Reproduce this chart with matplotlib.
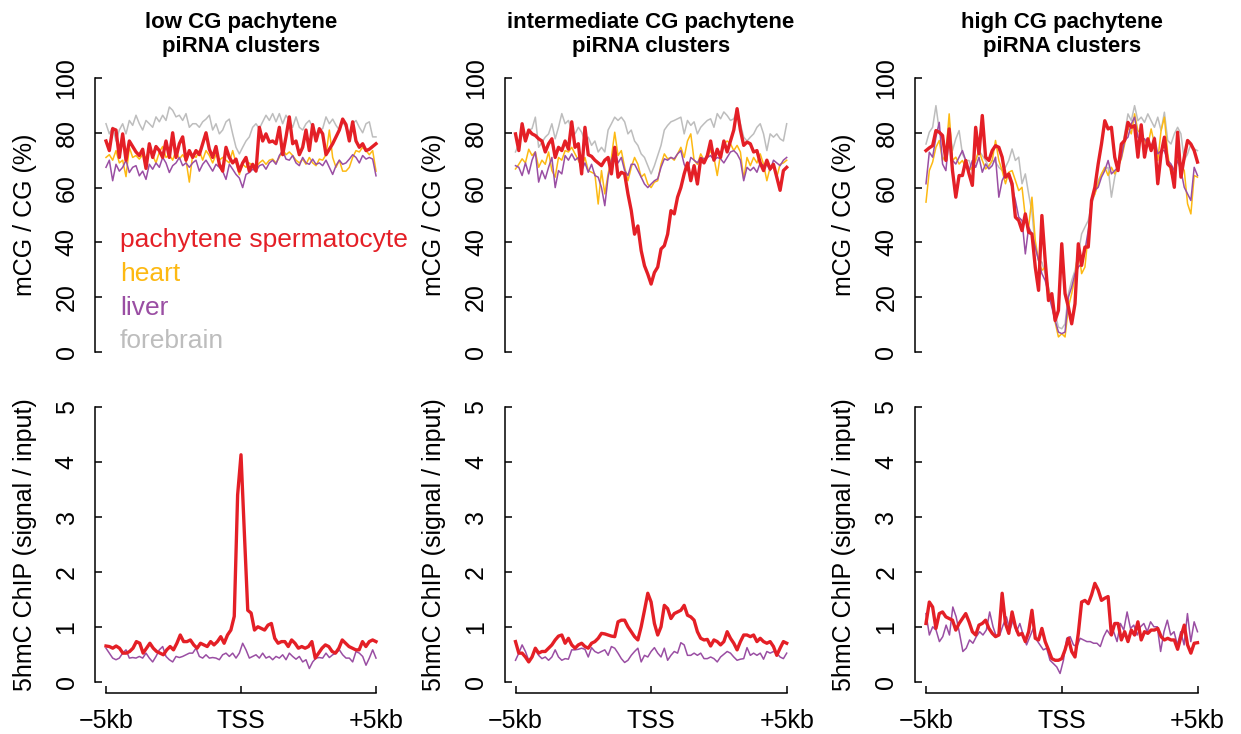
import numpy as np
import matplotlib
matplotlib.use('Agg')
from matplotlib import pyplot as plt

plt.rcParams['font.family'] = ['Liberation Sans', 'DejaVu Sans']

# colours used in the figure
RED = '#E41F26'
ORANGE = '#FDB913'
PURPLE = '#9A4EA3'
GREY = '#BDBDBD'

titles = ['low CG pachytene\npiRNA clusters',
          'intermediate CG pachytene\npiRNA clusters',
          'high CG pachytene\npiRNA clusters']
tissues = ['pachytene spermatocyte', 'heart', 'liver', 'forebrain']
xtick_labels = ['\u22125kb', 'TSS', '+5kb']

# ---- mCG / CG (%) : low CG clusters
low_pachy = [77, 73.5, 81.5, 81, 71, 79.6, 70, 77, 75, 73, 71.7, 74, 67, 76, 71, 75, 73.5, 71, 77, 71,
             80, 71, 76, 78.5, 70, 73.5, 71, 73.5, 72, 76, 80, 74, 71, 75, 68.5, 66, 74.7, 71, 69, 70.4,
             66, 69, 71, 66, 68.5, 66, 82, 77, 79.6, 76.6, 77, 76, 82, 72, 78.5, 85.8, 76, 77, 72, 74.7,
             81, 73.5, 83, 77, 81.5, 79.6, 72, 74, 76, 78.5, 81, 85, 83, 77, 84, 77, 74.7, 76, 73.5, 74,
             75, 76]
low_heart = [71, 72, 70, 73.5, 69, 70, 64, 74.7, 71, 71.7, 70.4, 72, 71, 73.5, 71.7, 69, 73, 75, 71, 72,
             70, 73.5, 70.4, 72, 70, 62, 72, 71, 73.5, 70, 73.5, 71.7, 69, 72, 70, 71, 70, 69, 73.5, 69,
             64.7, 68.5, 67.4, 69, 68, 67.4, 69, 70, 68.5, 70, 70.4, 69, 71, 74, 72, 73, 71.7, 70, 69, 70.4,
             68.5, 71, 69, 68, 70.4, 70, 72, 81, 71, 67.4, 70, 66, 66, 67.4, 71, 73.5, 73, 74.7, 73.5, 72,
             73.5, 66]
low_liver = [67.4, 70, 62.5, 68.5, 66, 67.4, 70, 65.5, 67.4, 68, 64.3, 66, 63, 68.5, 66.7, 69, 67.4, 71, 69, 65.5,
             68, 69, 71, 68, 69, 67.4, 69, 70, 66, 68.5, 70, 68, 66, 68.5, 67.4, 66, 63, 68.5, 66.7, 64.8,
             63.5, 60, 64.8, 65.5, 66.7, 66, 68, 68.5, 66.7, 69, 70, 68.5, 71.7, 73.5, 70.4, 70, 71.7, 69, 68, 71,
             69, 68.5, 70.4, 68.5, 69, 68, 70, 67.4, 64.8, 68, 70, 68.5, 69, 70.4, 72, 71, 69, 71.7, 70.4, 71,
             70.4, 64.3]
low_brain = [83.3, 79.6, 82, 77, 81, 83.3, 79.6, 84.5, 82.7, 86.4, 83.3, 81, 84.5, 83.3, 82, 85.8, 84, 86.4, 84.5, 89.4,
             88.2, 85.8, 86.4, 84.5, 87, 82, 83.3, 83.3, 82, 84, 85, 86.4, 81, 83.3, 79.6, 81, 84, 85, 79.6, 74.7,
             72.3, 74.7, 77, 78.5, 82, 83.3, 81.5, 84, 86.4, 84.5, 87, 84, 87, 83.3, 86.4, 84.5, 82, 85.8, 82, 81,
             83.3, 84.5, 82, 79.6, 81, 81.5, 85.8, 83.3, 85, 82.7, 81, 84, 82, 80, 83.3, 84.5, 82, 80, 83.3, 84,
             78.5, 78.5]

# ---- mCG / CG (%) : intermediate CG clusters
mid_pachy = [79.6, 73.5, 83.3, 77, 81, 79.6, 79, 77.8, 77, 73, 76, 77.8, 71, 74.7, 73.5, 77, 74, 84, 74.7, 76,
             65, 82, 72, 71.4, 70, 69, 68, 70, 71, 65, 74.7, 63.8, 65.6, 65, 57.7, 51.6, 43, 46, 37, 31.5,
             28.4, 24.8, 29, 31, 37.6, 38.8, 43, 51.6, 50.4, 56.5, 60, 65, 69, 62.5, 68, 61.3, 70.5, 69, 71.7, 77,
             70, 74, 71, 77, 73, 77, 81, 88.8, 81, 75.4, 76.6, 76, 73, 73.5, 69, 66.2, 70, 66.8, 68.5, 63.8,
             59, 66.2, 67.4]
mid_heart = [66.8, 68.5, 70.5, 69, 74, 71.7, 73, 67.4, 70, 68.5, 73, 66.2, 63.8, 71, 70, 73.5, 73, 74.7, 72.3, 70,
             67.4, 71, 66.2, 65.6, 65, 54, 66.2, 57.7, 65, 71, 80.2, 71.7, 73.5, 67.4, 62.5, 67.4, 71, 68.5, 63.8, 65,
             61.3, 60, 62, 62.5, 68.5, 72.3, 70.5, 71, 70, 72.3, 74.7, 71, 77, 79.6, 70, 68.5, 72.3, 70, 71, 73.5,
             71, 64.4, 72.3, 76, 77, 76, 73.5, 75.4, 73, 63.2, 71, 68, 71, 69, 72.3, 68.5, 62.5, 67.4, 68.5, 63.8,
             68.5, 69, 70]
mid_liver = [68, 67.4, 64.4, 69, 65, 70, 73, 62, 66.2, 63.2, 67.4, 71, 60, 66.2, 65, 71.7, 70, 72.3, 70, 71,
             66.2, 69, 65.6, 68.5, 64.4, 63.8, 60, 53.4, 63.8, 70, 73.5, 69, 71, 66.2, 64.4, 68.5, 68.5, 66.2, 63.8, 61.3,
             60, 61.3, 62.5, 63.2, 67.4, 70.5, 70, 71, 70.5, 72.3, 73.5, 68.5, 66.2, 71, 70, 69, 71, 70.5, 71, 71.7,
             70, 71, 70.5, 69, 71, 73, 73.5, 72.3, 70, 62.5, 67.4, 66.2, 67.4, 65.6, 69, 68, 68.5, 66.2, 70, 69,
             68, 70, 71]
mid_brain = [73, 76, 79.6, 77, 81, 81.5, 85.7, 74.7, 76.6, 78.4, 79.6, 83.3, 77.8, 82, 87, 83.3, 84.5, 81, 79.6, 82,
             80.2, 77, 78.4, 75.4, 77, 73, 74.7, 73, 81, 83.3, 85.7, 84.5, 85.7, 84, 79.6, 81, 77, 75.4, 72.3, 71,
             68, 65, 68, 71.7, 75.4, 81, 82.7, 84, 84.5, 85.1, 85.7, 79.6, 84.5, 82.7, 84, 79.6, 82, 83.3, 84.5, 85.1,
             82, 87, 85.1, 87.6, 86.3, 84.5, 85.1, 88.2, 83.3, 78.4, 77, 78.4, 79.6, 82, 83.3, 79.6, 73.5, 79.6, 78.4, 79.6,
             77.8, 77, 83.3]

# ---- mCG / CG (%) : high CG clusters
high_pachy = [73.5, 74.5, 75.3, 80.8, 80.2, 79, 69.9, 81.4, 66.2, 56.5, 64.4, 64.4, 69.9, 65, 60.8, 82, 72.3, 86.3, 71.1, 69.9,
              73.5, 75.3, 74.7, 71.1, 63.8, 65, 61.4, 49.2, 48, 44.3, 50.4, 43.7, 43.1, 31, 22.5, 49.8, 33.4, 18.8, 21.3, 11.5,
              15.2, 39.5, 21.3, 16.4, 10.3, 17.6, 39.5, 31.6, 38.3, 38.3, 55.3, 60.1, 68.6, 75.9, 84.4, 81.4, 82, 71.1, 66.2, 75.9,
              77.2, 83.8, 82, 82.6, 71.1, 82.9, 71.1, 77.8, 73.5, 77.8, 61.4, 72.3, 78.4, 68.6, 67.4, 60.1, 80.2, 63.8, 71.1, 77.2,
              75.9, 73.5, 69.3]
high_heart = [54.7, 66.2, 69.3, 74.7, 77.2, 69.9, 72.3, 86.9, 69.9, 71.1, 68.6, 69.9, 67.4, 66.2, 67.4, 69.9, 73.5, 69.9, 66.8, 68,
              69.9, 77.2, 69.9, 66.2, 61.4, 65.6, 66.2, 62.6, 58.9, 60.1, 49.2, 45.6, 56.5, 40.7, 33.4, 29.8, 31, 22.5, 17.6, 10.9,
              5.5, 6.7, 5.5, 16.4, 21.3, 27.3, 38.3, 28.6, 31, 43.1, 55.3, 57.7, 61.4, 65, 67.4, 64.4, 67.4, 65, 67.4, 70.5,
              75.9, 82, 79.6, 86.9, 80.8, 79.6, 77.2, 75.3, 81.4, 75.9, 69.9, 80.8, 85.7, 72.3, 65, 66.2, 71.1, 68.6, 66.2, 54.1,
              50.4, 64.4, 63.8]
high_liver = [61.4, 72.9, 71.1, 78.4, 83.8, 68.6, 66.2, 78.4, 69.9, 68.6, 71.1, 73.5, 69.9, 66.2, 69.9, 67.4, 71.1, 65.6, 68.6, 66.8,
              68, 71.1, 56.5, 62.6, 65, 63.8, 60.1, 55.3, 49.2, 48, 35.8, 45.6, 43.1, 38.3, 33.4, 28.6, 26.1, 21.3, 16.4, 11.5,
              7.3, 6.7, 7.3, 20, 23.7, 28.6, 31, 32.2, 37.1, 44.3, 55.3, 59, 60.1, 63.8, 66.2, 69.9, 65, 66.2, 67.4, 71.1,
              77.2, 78.4, 83.2, 85.7, 78.4, 77.2, 77.8, 75.9, 74.7, 78.4, 72.3, 73.5, 73.5, 69.9, 68.6, 66.2, 69.9, 66.2, 60.1, 57.7,
              55.3, 67.4, 64.4]
high_brain = [75.9, 80.2, 82, 89.9, 80.8, 77.2, 69.9, 83.8, 73.5, 77.8, 80.8, 72.3, 69.9, 69.9, 66.2, 69.9, 73.5, 71.7, 69.9, 67.4,
              69.9, 69.3, 67.4, 66.2, 67.4, 69.9, 74.1, 69.9, 71.1, 61.4, 65, 57.7, 51, 38.3, 33.4, 32.8, 28.6, 23.7, 18.8, 14,
              9.1, 8.5, 10.3, 21.3, 26.1, 29.8, 35.8, 43.1, 45.6, 48, 54.1, 57.7, 62.6, 65, 66.8, 67.4, 56.5, 63.8, 68.6, 72.3,
              79.6, 86.9, 84.4, 89.9, 84.4, 85.7, 83.8, 86.9, 84.4, 82, 85.7, 80.8, 87.5, 77.2, 75.9, 79.6, 82, 79.6, 69.9, 72.3,
              75.9, 74.1, 73.5]

# ---- 5hmC ChIP (signal / input)
low_pachy_hmc = [0.65, 0.64, 0.61, 0.65, 0.61, 0.52, 0.52, 0.55, 0.61, 0.73, 0.7, 0.52, 0.61, 0.7, 0.61, 0.55, 0.52, 0.49, 0.58, 0.64,
                 0.58, 0.7, 0.85, 0.73, 0.73, 0.76, 0.67, 0.61, 0.7, 0.67, 0.64, 0.73, 0.67, 0.73, 0.82, 0.7, 0.85, 0.94, 1.19, 3.4,
                 4.13, 2.7, 1.3, 1.25, 0.94, 1.0, 0.97, 0.94, 1.03, 1.06, 0.79, 0.7, 0.73, 0.73, 0.64, 0.76, 0.7, 0.61, 0.64, 0.61,
                 0.64, 0.73, 0.43, 0.52, 0.61, 0.67, 0.64, 0.55, 0.52, 0.61, 0.76, 0.7, 0.64, 0.61, 0.58, 0.58, 0.73, 0.64, 0.73, 0.76,
                 0.73]
low_liver_hmc = [0.61, 0.52, 0.43, 0.4, 0.43, 0.52, 0.58, 0.43, 0.44, 0.43, 0.46, 0.43, 0.52, 0.43, 0.36, 0.46, 0.58, 0.64, 0.46, 0.4,
                 0.36, 0.46, 0.44, 0.46, 0.49, 0.52, 0.52, 0.61, 0.46, 0.43, 0.49, 0.43, 0.44, 0.43, 0.4, 0.49, 0.52, 0.46, 0.52, 0.43,
                 0.52, 0.7, 0.58, 0.43, 0.46, 0.49, 0.43, 0.52, 0.43, 0.46, 0.4, 0.46, 0.43, 0.49, 0.4, 0.52, 0.46, 0.41, 0.46, 0.36,
                 0.4, 0.24, 0.36, 0.43, 0.44, 0.43, 0.52, 0.44, 0.49, 0.52, 0.58, 0.49, 0.43, 0.43, 0.36, 0.55, 0.52, 0.46, 0.3, 0.43,
                 0.58, 0.43]
mid_pachy_hmc = [0.73, 0.52, 0.52, 0.45, 0.36, 0.45, 0.61, 0.52, 0.55, 0.55, 0.61, 0.67, 0.76, 0.83, 0.85, 0.7, 0.79, 0.67, 0.61, 0.67,
                 0.7, 0.64, 0.61, 0.7, 0.73, 0.79, 0.88, 0.87, 0.85, 0.83, 0.82, 1.09, 1.12, 1.12, 1.0, 0.91, 0.82, 0.76, 1.0, 1.3,
                 1.61, 1.45, 1.06, 0.85, 1.0, 1.39, 1.33, 1.15, 1.24, 1.27, 1.3, 1.39, 1.21, 1.18, 1.12, 0.91, 0.79, 0.76, 0.77, 0.65,
                 0.76, 0.73, 0.67, 0.73, 0.91, 0.79, 0.7, 0.58, 0.73, 0.85, 0.85, 0.82, 0.85, 0.73, 0.79, 0.73, 0.7, 0.73, 0.64, 0.48,
                 0.61, 0.73, 0.7]
mid_liver_hmc = [0.39, 0.52, 0.67, 0.55, 0.39, 0.45, 0.58, 0.48, 0.42, 0.45, 0.39, 0.45, 0.58, 0.45, 0.39, 0.42, 0.41, 0.58, 0.58, 0.59,
                 0.61, 0.59, 0.45, 0.62, 0.55, 0.52, 0.55, 0.58, 0.48, 0.64, 0.61, 0.52, 0.42, 0.35, 0.39, 0.48, 0.55, 0.61, 0.36, 0.48,
                 0.45, 0.55, 0.62, 0.52, 0.45, 0.61, 0.39, 0.48, 0.55, 0.52, 0.71, 0.67, 0.48, 0.48, 0.52, 0.48, 0.52, 0.42, 0.42, 0.45,
                 0.42, 0.36, 0.45, 0.5, 0.55, 0.52, 0.45, 0.39, 0.41, 0.42, 0.62, 0.48, 0.52, 0.48, 0.52, 0.41, 0.55, 0.52, 0.55, 0.52,
                 0.45, 0.42, 0.52]
high_pachy_hmc = [1.06, 1.45, 1.36, 0.97, 1.24, 1.27, 1.18, 1.15, 1.12, 0.94, 1.06, 1.15, 1.24, 1.09, 0.91, 0.85, 1.03, 1.06, 1.12, 0.97,
                  0.88, 0.82, 0.85, 1.61, 1.06, 0.88, 1.27, 1.0, 0.85, 0.88, 0.73, 0.91, 1.3, 0.79, 0.76, 0.97, 0.73, 0.58, 0.42, 0.39,
                  0.39, 0.42, 0.58, 0.79, 0.55, 0.45, 0.88, 1.45, 1.48, 1.42, 1.58, 1.79, 1.67, 1.48, 1.52, 1.55, 0.85, 1.06, 1.06, 0.76,
                  0.91, 0.73, 0.94, 0.85, 1.09, 0.76, 0.91, 0.88, 0.94, 0.94, 0.97, 0.82, 0.76, 0.79, 0.76, 0.76, 0.59, 0.82, 1.03, 0.67,
                  0.52, 0.7, 0.71]
high_liver_hmc = [1.24, 0.85, 1.0, 0.94, 0.73, 0.82, 1.03, 0.85, 1.36, 1.18, 0.88, 0.55, 0.61, 0.76, 0.7, 0.82, 0.91, 0.85, 0.94, 1.27,
                  1.0, 0.82, 0.85, 1.03, 1.18, 0.94, 1.12, 0.91, 1.06, 0.85, 0.67, 0.82, 0.97, 0.76, 0.67, 0.58, 0.61, 0.39, 0.33, 0.27,
                  0.15, 0.39, 0.79, 0.82, 0.67, 0.64, 0.79, 0.76, 0.73, 0.73, 0.7, 0.7, 0.64, 0.82, 0.94, 0.85, 0.91, 0.73, 1.06, 0.94,
                  1.27, 0.97, 1.03, 0.85, 1.0, 1.06, 0.91, 1.09, 1.0, 1.0, 0.55, 0.91, 1.12, 0.85, 0.91, 0.67, 0.91, 0.67, 1.24, 0.73,
                  1.09, 0.91]

mcg = [[low_pachy, low_heart, low_liver, low_brain],
       [mid_pachy, mid_heart, mid_liver, mid_brain],
       [high_pachy, high_heart, high_liver, high_brain]]
hmc = [[low_pachy_hmc, low_liver_hmc],
       [mid_pachy_hmc, mid_liver_hmc],
       [high_pachy_hmc, high_liver_hmc]]


def kb(vals):
    # bins spread evenly from -5kb to +5kb
    return np.linspace(-5, 5, len(vals))


# figure layout in pixels (R style plot with 4% padding round the data)
W, H = 1241, 734
fig = plt.figure(figsize=(W / 100, H / 100), dpi=100)
col_x = [(106, 376), (515.5, 786.7), (926, 1197.5)]


def add_axes(x0, x1, y_top, y_bot):
    pad = 0.04 * (x1 - x0)
    left, right = x0 - pad, x1 + pad
    return fig.add_axes([left / W, 1 - y_bot / H, (right - left) / W, (y_bot - y_top) / H])


def style(ax, ymax):
    ax.spines['top'].set_visible(False)
    ax.spines['right'].set_visible(False)
    ax.spines['left'].set_bounds(0, ymax)
    ax.spines['left'].set_linewidth(1.1)
    ax.spines['bottom'].set_linewidth(1.1)
    ax.tick_params(direction='in', length=5, width=1.1, labelsize=18, pad=12)
    ax.set_xlim(-5.4, 5.4)
    ax.set_ylim(-0.04 * ymax, 1.04 * ymax)


for c in range(3):
    x0, x1 = col_x[c]

    # methylation panel
    ax = add_axes(x0, x1, 78 - 11, 352 + 11)
    style(ax, 100)
    ax.spines['bottom'].set_visible(False)
    ax.set_xticks([])
    yt = [0, 20, 40, 60, 80, 100]
    ax.set_yticks(yt, [str(v) for v in yt], rotation=90, va='center')
    series = mcg[c]
    ax.plot(kb(series[3]), series[3], color=GREY, lw=1.1)
    ax.plot(kb(series[1]), series[1], color=ORANGE, lw=1.1)
    ax.plot(kb(series[2]), series[2], color=PURPLE, lw=1.1)
    ax.plot(kb(series[0]), series[0], color=RED, lw=2.4)
    ax.set_ylabel('mCG / CG (%)', fontsize=18)
    ax.yaxis.set_label_coords(-0.2, 0.5)
    ax.set_title(titles[c], fontsize=16, fontweight='bold', pad=11)

    if c == 0:
        # coloured text legend
        legend_y = [38.4, 26.0, 13.5, 1.5]
        for name, col, yy in zip(tissues, [RED, ORANGE, PURPLE, GREY], legend_y):
            ax.text(-4.48, yy, name, color=col, fontsize=19, ha='left', va='baseline')

    # 5hmC panel
    ax = add_axes(x0, x1, 407 - 11, 681.7 + 11)
    style(ax, 5)
    ax.spines['bottom'].set_bounds(-5, 5)
    ax.set_xticks([-5, 0, 5], xtick_labels)
    ax.set_yticks(range(6), [str(v) for v in range(6)], rotation=90, va='center')
    ax.plot(kb(hmc[c][1]), hmc[c][1], color=PURPLE, lw=1.1)
    ax.plot(kb(hmc[c][0]), hmc[c][0], color=RED, lw=2.4)
    ax.set_ylabel('5hmC ChIP (signal / input)', fontsize=18)
    ax.yaxis.set_label_coords(-0.2, 0.5)

plt.savefig('out.png', dpi=100)
